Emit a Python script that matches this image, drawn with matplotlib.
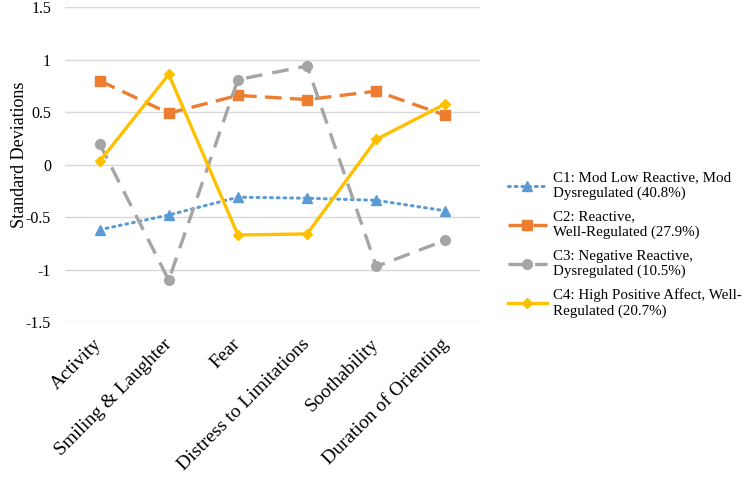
import matplotlib
matplotlib.use("Agg")
import matplotlib.pyplot as plt

plt.rcParams['font.family'] = ['Liberation Serif', 'DejaVu Serif']

categories = ["Activity", "Smiling & Laughter", "Fear", "Distress to Limitations",
              "Soothability", "Duration of Orienting"]
c1_vals = [-0.62, -0.48, -0.31, -0.32, -0.34, -0.44]
c2_vals = [0.80, 0.49, 0.66, 0.62, 0.70, 0.47]
c3_vals = [0.20, -1.10, 0.81, 0.94, -0.97, -0.72]
c4_vals = [0.03, 0.86, -0.67, -0.66, 0.24, 0.58]
labels = ["C1: Mod Low Reactive, Mod\nDysregulated (40.8%)",
          "C2: Reactive,\nWell-Regulated (27.9%)",
          "C3: Negative Reactive,\nDysregulated (10.5%)",
          "C4: High Positive Affect, Well-\nRegulated (20.7%)"]
y_ticks = [-1.5, -1, -0.5, 0, 0.5, 1, 1.5]
y_tick_labels = ["-1.5", "-1", "-0.5", "0", "0.5", "1", "1.5"]

fig = plt.figure(figsize=(7.52, 4.8), dpi=100)
ax = fig.add_axes([0.0864, 0.329, 0.552, 0.656])
x = range(len(categories))

ax.plot(x, c1_vals, color="#5B9BD5", lw=2.2, ls=(0, (0.6, 1.6)),
        dash_capstyle="round", marker="^", ms=7, label=labels[0])
ax.plot(x, c2_vals, color="#ED7D31", lw=2.4, ls=(0, (5, 2.5)),
        marker="s", ms=7, label=labels[1])
ax.plot(x, c3_vals, color="#A5A5A5", lw=2.4, ls=(0, (5, 3)),
        marker="o", ms=7, label=labels[2])
ax.plot(x, c4_vals, color="#FFC000", lw=2.4, ls="-",
        marker="D", ms=5, label=labels[3])

ax.set_xlim(-0.5, len(categories) - 0.5)
ax.set_ylim(-1.5, 1.5)
ax.set_yticks(y_ticks)
ax.set_yticklabels(y_tick_labels, fontsize=11.5)
ax.set_xticks(list(x))
ax.set_xticklabels(categories, rotation=45, ha="right", va="center",
                   rotation_mode="anchor", fontsize=14)
ax.tick_params(length=0)
ax.tick_params(axis="y", pad=10)
ax.tick_params(axis="x", pad=14)
ax.grid(axis="y", color="#D9D9D9", lw=1)
ax.set_axisbelow(True)
for s in ax.spines.values():
    s.set_visible(False)
ax.set_ylabel("Standard Deviations", fontsize=13)
ax.yaxis.set_label_coords(-0.09, 0.53)

fig.legend(loc="center left", bbox_to_anchor=(0.657, 0.49), frameon=False,
           fontsize=10.8, handlelength=2.6, handletextpad=0.4, labelspacing=0.7)

fig.savefig("out.png", dpi=100)
